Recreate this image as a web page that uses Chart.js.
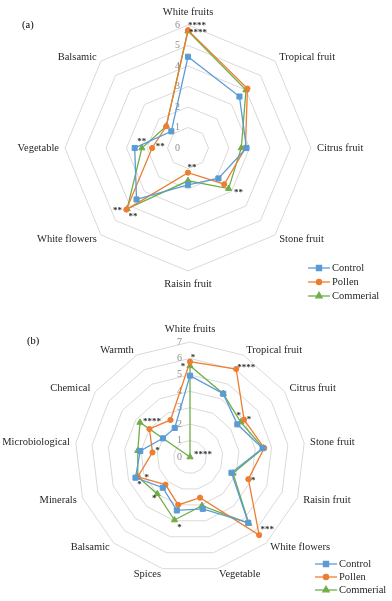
<!DOCTYPE html>
<html>
<head>
<meta charset="utf-8">
<script src="https://cdn.jsdelivr.net/npm/chart.js@4.4.1/dist/chart.umd.min.js"></script>
<style>
  html, body { margin: 0; padding: 0; background: #fff; width: 392px; height: 601px; overflow: hidden; }
  canvas { position: absolute; left: 0; }
</style>
</head>
<body>
<canvas id="chartA" width="392" height="300" style="top:0"></canvas>
<canvas id="chartB" width="392" height="301" style="top:300px"></canvas>
<script>
// series shared by both panels
const seriesNames = ['Control', 'Pollen', 'Commerial'];
const seriesColors = ['#5b9bd5', '#ed7d31', '#70ad47'];
const seriesMarkers = ['rect', 'circle', 'triangle'];
const seriesMarkerSize = [3.6, 2.6, 3.6];

// panel (a)
const categoriesA = ['White fruits', 'Tropical fruit', 'Citrus fruit', 'Stone fruit',
  'Raisin fruit', 'White flowers', 'Vegetable', 'Balsamic'];
const controlA = [4.45, 3.55, 2.85, 2.1, 1.8, 3.55, 2.6, 1.15];
const pollenA = [5.75, 4.1, 2.8, 2.5, 1.2, 4.25, 1.75, 1.5];
const commercialA = [5.7, 4.0, 2.6, 2.8, 1.6, 4.2, 2.25, 1.5];
const ticksA = ['0', '1', '2', '3', '4', '5', '6'];

// panel (b)
const categoriesB = ['White fruits', 'Tropical fruit', 'Citrus fruit', 'Stone fruit',
  'Raisin fruit', 'White flowers', 'Vegetable', 'Spices', 'Balsamic', 'Minerals',
  'Microbiological', 'Chemical', 'Warmth'];
const controlB = [4.95, 4.35, 3.5, 4.45, 2.7, 5.35, 3.25, 3.35, 2.5, 3.55, 3.05, 2.0, 2.0];
const pollenB = [5.8, 6.05, 4.0, 4.55, 3.8, 6.35, 2.55, 3.0, 2.25, 3.4, 2.3, 3.0, 2.55];
const commercialB = [5.55, 4.35, 3.75, 4.5, 2.8, 5.4, 3.05, 3.95, 3.0, 3.4, 3.2, 3.7, 0];
const ticksB = ['0', '1', '2', '3', '4', '5', '6', '7'];

// significance marks: [category index, series index, text]
const marksA = [[0, 1, '****'], [0, 2, '****'], [6, 0, '**'], [6, 1, '**'],
  [3, 2, '**'], [4, 1, '**'], [5, 1, '**'], [5, 2, '**']];
const marksB = [[0, 1, '*'], [0, 2, '*'], [1, 1, '****'], [2, 2, '*'], [2, 1, '*'],
  [11, 2, '****'], [12, 2, '****'], [10, 1, '*'], [9, 1, '*'], [9, 0, '*'],
  [8, 2, '*'], [7, 2, '*'], [4, 1, '*'], [5, 1, '***']];
// pixel nudges for the marks (same order as above)
const nudgeA = [[9, -6], [10, 0], [7, -8], [8, -3], [10, 2], [4, -7], [-9, -1], [6, 6]];
const nudgeB = [[3, -6], [-7, -1], [10, -3], [-2, -8], [5, -2], [12, -3], [13, -4],
  [5, -4], [9, -1], [4, 5], [-3, 3], [5, 6], [5, 0], [8, -7]];

const serifFont = '"Liberation Serif", "DejaVu Serif", serif';

const radarDecor = {
  id: 'radarDecor',
  beforeDatasetsDraw(chart, args, opts) {
    const s = chart.scales.r;
    const ctx = chart.ctx;
    ctx.save();
    // value ticks, left of the vertical axis
    ctx.font = '10px ' + serifFont;
    ctx.fillStyle = '#8c8c8c';
    ctx.textAlign = 'right';
    ctx.textBaseline = 'middle';
    opts.ticks.forEach((t, i) => {
      ctx.fillText(t, s.xCenter - 8, s.yCenter - s.getDistanceFromCenterForValue(Number(t)));
    });
    // category labels
    ctx.font = '10.5px ' + serifFont;
    ctx.fillStyle = '#262626';
    chart.data.labels.forEach((lab, i) => {
      let p = s.getPointPosition(i, s.drawingArea + 6);
      const dx = p.x - s.xCenter;
      if (Math.abs(dx) < 3) {
        p = s.getPointPosition(i, s.drawingArea + 13);
        ctx.textAlign = 'center';
      } else {
        ctx.textAlign = dx > 0 ? 'left' : 'right';
      }
      ctx.fillText(lab, p.x, p.y);
    });
    // panel tag
    ctx.textAlign = 'left';
    ctx.fillStyle = '#000';
    ctx.fillText(opts.tag[0], opts.tag[1], opts.tag[2]);
    ctx.restore();
  },
  afterDatasetsDraw(chart, args, opts) {
    const s = chart.scales.r;
    const ctx = chart.ctx;
    ctx.save();
    // asterisks
    ctx.font = 'bold 9px ' + serifFont;
    ctx.fillStyle = '#333';
    ctx.textAlign = 'center';
    ctx.textBaseline = 'middle';
    opts.marks.forEach((m, k) => {
      const v = chart.data.datasets[m[1]].data[m[0]];
      const p = s.getPointPosition(m[0], s.getDistanceFromCenterForValue(v));
      ctx.fillText(m[2], p.x + opts.nudge[k][0], p.y + opts.nudge[k][1] + 2);
    });
    // legend
    const lg = opts.legend;
    ctx.font = '10.5px ' + serifFont;
    ctx.textAlign = 'left';
    chart.data.datasets.forEach((ds, k) => {
      const y = lg.y + k * lg.step;
      ctx.strokeStyle = ds.borderColor;
      ctx.lineWidth = 1.3;
      ctx.beginPath();
      ctx.moveTo(lg.x, y);
      ctx.lineTo(lg.x + 22, y);
      ctx.stroke();
      ctx.fillStyle = ds.borderColor;
      Chart.helpers.drawPoint(ctx, { pointStyle: ds.pointStyle, radius: ds.pointRadius, borderWidth: 1 }, lg.x + 11, y);
      ctx.fillStyle = '#262626';
      ctx.fillText(ds.label, lg.x + 24, y);
    });
    ctx.restore();
  }
};

function buildRadar(id, labels, values, maxValue, padding, decor) {
  return new Chart(document.getElementById(id), {
    type: 'radar',
    data: {
      labels: labels,
      datasets: seriesNames.map((name, k) => ({
        label: name,
        data: values[k],
        borderColor: seriesColors[k],
        backgroundColor: seriesColors[k],
        pointBackgroundColor: seriesColors[k],
        pointBorderColor: seriesColors[k],
        pointStyle: seriesMarkers[k],
        pointRadius: seriesMarkerSize[k],
        pointBorderWidth: 1,
        borderWidth: 1.3,
        fill: false
      }))
    },
    options: {
      responsive: false,
      animation: false,
      layout: { padding: padding },
      plugins: {
        legend: { display: false },
        tooltip: { enabled: false },
        radarDecor: decor
      },
      scales: {
        r: {
          min: 0,
          max: maxValue,
          startAngle: 0,
          ticks: { display: false, stepSize: 1 },
          grid: { color: '#d9d9d9', lineWidth: 1 },
          angleLines: { display: false },
          pointLabels: { display: false }
        }
      }
    },
    plugins: [radarDecor]
  });
}

buildRadar('chartA', categoriesA, [controlA, pollenA, commercialA], 6,
  { left: 65, right: 81, top: 25, bottom: 29 },
  { ticks: ticksA, marks: marksA, nudge: nudgeA, tag: ['(a)', 22, 25],
    legend: { x: 308, y: 268, step: 14 } });

buildRadar('chartB', categoriesB, [controlB, pollenB, commercialB], 7,
  { left: 75, right: 87, top: 42, bottom: 29 },
  { ticks: ticksB, marks: marksB, nudge: nudgeB, tag: ['(b)', 27, 41],
    legend: { x: 315, y: 264, step: 13 } });
</script>
</body>
</html>
